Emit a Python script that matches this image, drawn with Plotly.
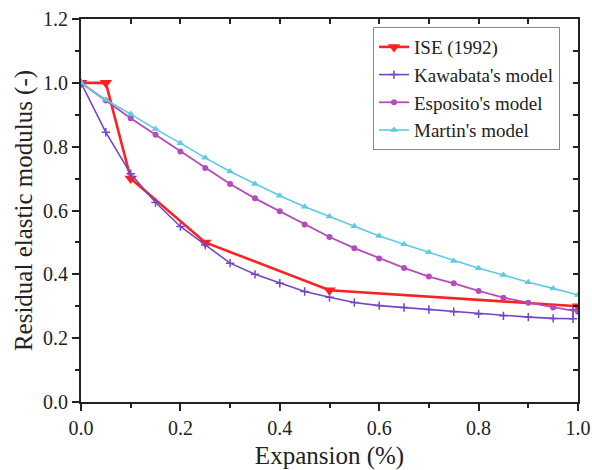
import plotly.graph_objects as go

# Expansion grid (%) used by the three models
x_model = [0.0, 0.05, 0.1, 0.15, 0.2, 0.25, 0.3, 0.35, 0.4, 0.45, 0.5,
           0.55, 0.6, 0.65, 0.7, 0.75, 0.8, 0.85, 0.9, 0.95, 1.0]

# Measured data, ISE (1992)
ise_x = [0.0, 0.05, 0.1, 0.25, 0.5, 1.0]
ise_y = [1.0, 1.0, 0.70, 0.50, 0.35, 0.30]

# Kawabata's model (ends with a small jump at the last expansion value)
kawabata_x = x_model[:-1] + [0.99, 0.99]
kawabata_y = [1.0, 0.845, 0.715, 0.625, 0.55, 0.492, 0.435, 0.40, 0.372, 0.346,
              0.328, 0.312, 0.302, 0.296, 0.29, 0.283, 0.276, 0.27, 0.266,
              0.262, 0.261, 0.29]

# Esposito's model
esposito_y = [1.0, 0.945, 0.889, 0.837, 0.785, 0.733, 0.683, 0.638, 0.598,
              0.556, 0.517, 0.482, 0.45, 0.42, 0.393, 0.372, 0.348, 0.327,
              0.311, 0.296, 0.283]

# Martin's model
martin_y = [1.0, 0.947, 0.902, 0.855, 0.811, 0.765, 0.722, 0.683, 0.646,
            0.612, 0.581, 0.551, 0.52, 0.494, 0.469, 0.442, 0.419, 0.398,
            0.375, 0.356, 0.335]

x_range = [0.0, 1.0]
y_range = [0.0, 1.2]

FONT = "Liberation Serif, Times New Roman, serif"
INK = "#222222"

fig = go.Figure()

fig.add_trace(go.Scatter(
    x=ise_x, y=ise_y, name="ISE (1992)", mode="lines+markers",
    line=dict(color="#ff2020", width=2.6),
    marker=dict(symbol="triangle-down", size=11, color="#ff2020"),
))
fig.add_trace(go.Scatter(
    x=kawabata_x, y=kawabata_y, name="Kawabata's model", mode="lines+markers",
    line=dict(color="#7446c2", width=1.6),
    marker=dict(symbol="cross-thin-open", size=6,
                line=dict(color="#7446c2", width=1.5)),
))
fig.add_trace(go.Scatter(
    x=x_model, y=esposito_y, name="Esposito's model", mode="lines+markers",
    line=dict(color="#b44cbb", width=1.8),
    marker=dict(symbol="circle", size=6, color="#b44cbb"),
))
fig.add_trace(go.Scatter(
    x=x_model, y=martin_y, name="Martin's model", mode="lines+markers",
    line=dict(color="#5ccbe4", width=1.6),
    marker=dict(symbol="triangle-up", size=7, color="#5ccbe4"),
))

# An invisible carrier trace so the top/right frame axes get drawn
fig.add_trace(go.Scatter(
    x=x_range, y=y_range, xaxis="x2", yaxis="y2", mode="lines",
    line=dict(width=0, color="rgba(0,0,0,0)"), showlegend=False,
    hoverinfo="skip",
))

axis_common = dict(
    showgrid=False, zeroline=False, showline=True, automargin=False,
    linecolor=INK, linewidth=1.8, tickcolor=INK, tickwidth=1.5,
)

fig.update_layout(
    width=592, height=470,
    margin=dict(l=81, r=14, t=19, b=68),
    paper_bgcolor="white", plot_bgcolor="white",
    font=dict(family=FONT, color=INK),
    showlegend=True,
    legend=dict(
        x=0.5875, y=0.979, xanchor="left", yanchor="top",
        bordercolor="#8a8a8a", borderwidth=1, bgcolor="white",
        font=dict(family=FONT, size=19, color=INK),
        tracegroupgap=0, itemwidth=30,
    ),
    xaxis=dict(
        **axis_common, range=x_range, dtick=0.2, tick0=0, tickformat=".1f",
        ticks="outside", ticklen=7, ticklabeloverflow="allow",
        minor=dict(ticks="outside", ticklen=4, dtick=0.1, tickcolor=INK),
        tickfont=dict(size=20, family=FONT, color=INK),
        title=dict(text="Expansion (%)", font=dict(size=25, family=FONT, color=INK),
                   standoff=10),
    ),
    yaxis=dict(
        **axis_common, range=y_range, dtick=0.2, tick0=0, tickformat=".1f",
        ticks="outside", ticklen=7,
        minor=dict(ticks="outside", ticklen=4, dtick=0.1, tickcolor=INK),
        tickfont=dict(size=20, family=FONT, color=INK),
        title=dict(text="Residual elastic modulus (-)",
                   font=dict(size=25, family=FONT, color=INK), standoff=3),
    ),
    # frame on top and right with inward ticks
    xaxis2=dict(
        **axis_common, range=x_range, overlaying="x", side="top", anchor="y2",
        dtick=0.1, tick0=0, ticks="inside", ticklen=5, showticklabels=False,
    ),
    yaxis2=dict(
        **axis_common, range=y_range, overlaying="y", side="right", anchor="x2",
        dtick=0.1, tick0=0, ticks="inside", ticklen=5, showticklabels=False,
    ),
)

fig.write_html("out.html")
